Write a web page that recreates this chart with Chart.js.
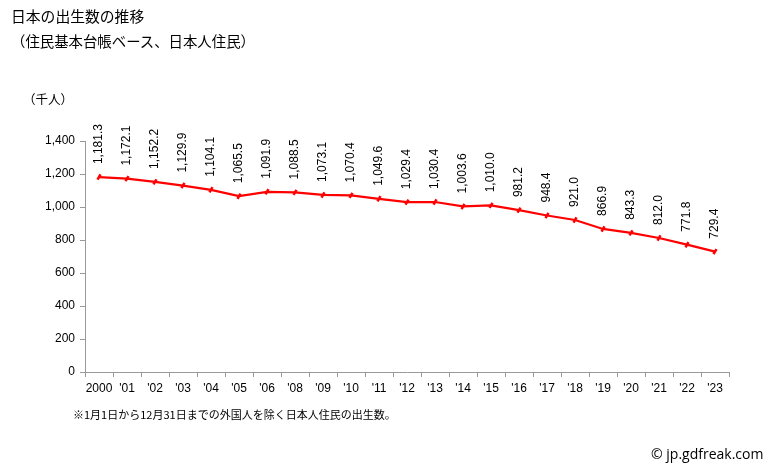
<!DOCTYPE html>
<html><head><meta charset="utf-8">
<script src="https://cdn.jsdelivr.net/npm/chart.js@4"></script>
<style>
html,body{margin:0;padding:0;background:#fff;}
#wrap{position:relative;width:772px;height:471px;overflow:hidden;}
canvas{position:absolute;left:0;top:0;}
.t{position:absolute;font-family:"Noto Sans CJK JP","Noto Sans",sans-serif;color:#000;white-space:nowrap;line-height:1;}
</style></head><body>
<div id="wrap">
<canvas id="c" width="772" height="471"></canvas>
<div class="t" style="left:11px;top:9px;font-size:14.8px;">日本の出生数の推移</div>
<div class="t" style="left:11px;top:34px;font-size:14.4px;">（住民基本台帳ベース、日本人住民）</div>
<div class="t" style="left:23px;top:93px;font-size:12.5px;">（千人）</div>
<div class="t" style="left:73px;top:409px;font-size:11px;">※1月1日から12月31日までの外国人を除く日本人住民の出生数。</div>
<div class="t" style="left:651px;top:447px;font-size:14px;font-family:'Open Sans','Liberation Sans',sans-serif;">© jp.gdfreak.com</div>
</div>
<script>
const categories = ["2000","'01","'02","'03","'04","'05","'06","'08","'09","'10","'11","'12","'13","'14","'15","'16","'17","'18","'19","'20","'21","'22","'23"];
const births = [1181.3,1172.1,1152.2,1129.9,1104.1,1065.5,1091.9,1088.5,1073.1,1070.4,1049.6,1029.4,1030.4,1003.6,1010.0,981.2,948.4,921.0,866.9,843.3,812.0,771.8,729.4];
const yTicks = [0,200,400,600,800,1000,1200,1400];

const numFont = "'Liberation Sans', Arial, sans-serif";

const labelPlugin = {
  id: 'vlabels',
  afterDatasetsDraw(chart) {
    const ctx = chart.ctx;
    const meta = chart.getDatasetMeta(0);
    ctx.save();
    ctx.font = "12px " + numFont;
    ctx.fillStyle = "#000";
    ctx.textAlign = "left";
    ctx.textBaseline = "middle";
    meta.data.forEach((pt, i) => {
      const v = births[i];
      const s = v.toLocaleString('en-US', {minimumFractionDigits:1, maximumFractionDigits:1});
      ctx.save();
      ctx.translate(pt.x, pt.y - 13);
      ctx.rotate(-Math.PI/2);
      ctx.fillText(s, 0, 0);
      ctx.restore();
    });
    ctx.restore();
  }
};

new Chart(document.getElementById('c'), {
  type: 'line',
  data: {
    labels: categories,
    datasets: [{
      data: births,
      borderColor: '#ff0000',
      backgroundColor: '#ff0000',
      borderWidth: 2.2,
      pointStyle: 'line',
      pointRotation: 120,
      pointRadius: 3,
      pointBorderWidth: 2.5,
      pointBorderColor: '#ff0000',
      tension: 0,
      clip: false
    }]
  },
  options: {
    responsive: false,
    animation: false,
    events: [],
    layout: { padding: { left: 0, right: 43, top: 141, bottom: 0 } },
    plugins: { legend: { display: false }, tooltip: { enabled: false } },
    scales: {
      x: {
        type: 'category',
        offset: true,
        grid: { offset: true, drawOnChartArea: false, drawTicks: true, tickLength: 5, color: '#999' },
        border: { color: '#999', width: 1 },
        ticks: { color: '#000', font: { family: numFont, size: 12 }, padding: 4, maxRotation: 0, autoSkip: false },
        afterFit(s) { s.height = 99; }
      },
      y: {
        min: 0, max: 1400,
        afterBuildTicks(s) { s.ticks = yTicks.map(v => ({ value: v })); },
        grid: { drawOnChartArea: false, drawTicks: true, tickLength: 5, color: '#999' },
        border: { color: '#999', width: 1 },
        ticks: {
          color: '#000', font: { family: numFont, size: 12 }, padding: 5,
          callback: v => v.toLocaleString('en-US')
        },
        afterFit(s) { s.width = 85; }
      }
    }
  },
  plugins: [labelPlugin]
});
</script>
</body></html>
